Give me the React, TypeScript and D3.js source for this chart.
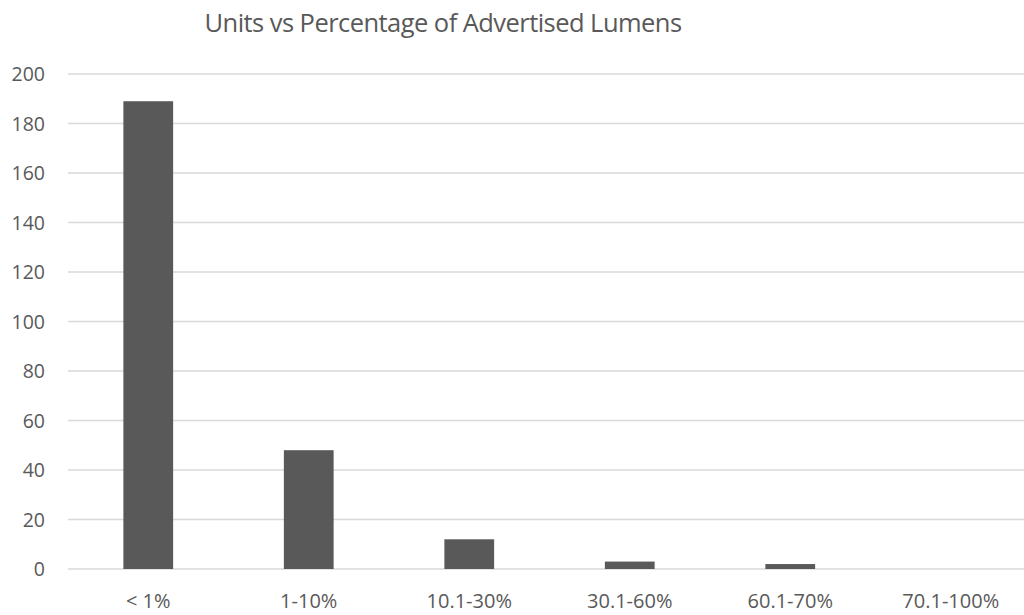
import React, { useMemo } from 'react';
import { scaleBand, scaleLinear, range } from 'd3';

const categories = ['< 1%', '1-10%', '10.1-30%', '30.1-60%', '60.1-70%', '70.1-100%'];
const units = [189, 48, 12, 3, 2, 0];
const yTicks = range(0, 201, 20);

const W = 1024;
const H = 615;
const FONT = '"Open Sans", "Liberation Sans", sans-serif';
const INK = '#595959';
const GRID = '#d9d9d9';

export default function App() {
  const { x, y } = useMemo(() => {
    const x = scaleBand<string>()
      .domain(categories)
      .range([68, 1031])
      .paddingInner(0.69)
      .paddingOuter(0.345);
    const y = scaleLinear().domain([0, 200]).range([569, 74]);
    return { x, y };
  }, []);

  return (
    <svg
      width={W}
      height={H}
      viewBox={`0 0 ${W} ${H}`}
      style={{ position: 'absolute', left: 0, top: 0, background: '#fff' }}
      fontFamily={FONT}
    >
      <text x={443} y={32} textAnchor="middle" fontSize={25.5} letterSpacing={-0.55} fill={INK}>
        Units vs Percentage of Advertised Lumens
      </text>

      {yTicks.map((t) => (
        <g key={t}>
          <line x1={68} x2={1031} y1={y(t)} y2={y(t)} stroke={GRID} strokeWidth={1.3} />
          <text x={45} y={y(t) + 7} textAnchor="end" fontSize={19.5} fill={INK}>
            {t}
          </text>
        </g>
      ))}

      {categories.map((c, i) => (
        <rect
          key={c}
          x={x(c)}
          y={y(units[i])}
          width={x.bandwidth()}
          height={y(0) - y(units[i])}
          fill={INK}
        />
      ))}

      {categories.map((c) => (
        <text
          key={c}
          x={(x(c) ?? 0) + x.bandwidth() / 2}
          y={607.5}
          textAnchor="middle"
          fontSize={20}
          fill={INK}
        >
          {c}
        </text>
      ))}
    </svg>
  );
}
